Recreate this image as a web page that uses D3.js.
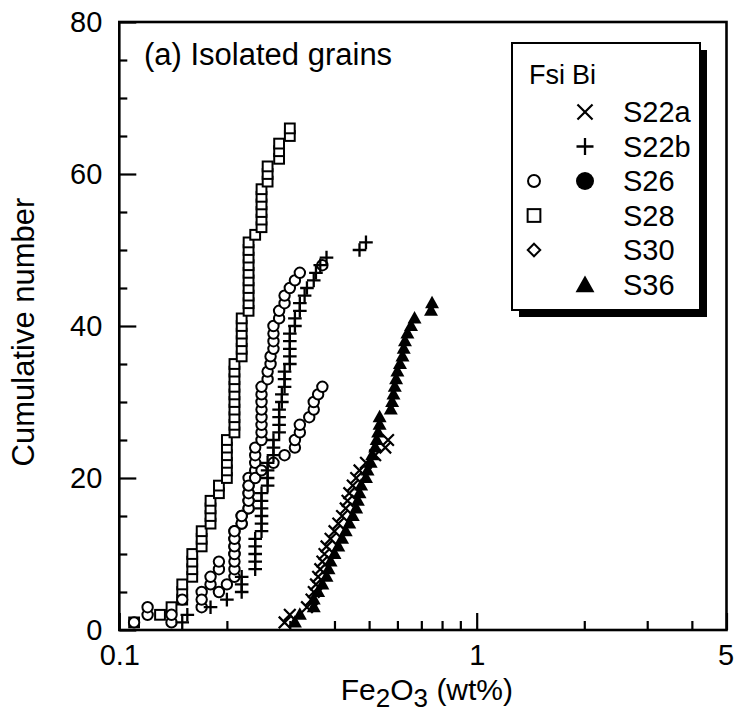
<!DOCTYPE html>
<html><head><meta charset="utf-8">
<script src="https://cdn.jsdelivr.net/npm/d3@7"></script>
<style>
html,body{margin:0;padding:0;background:#fff;}
svg{display:block;font-family:"Liberation Sans",Arial,Helvetica,sans-serif;}
</style></head>
<body><svg id="chart" width="736" height="716"></svg>
<script>
// ---- data (Fe2O3 wt% values, sorted; cumulative number = rank) ----
const s28Fsi = [0.11,0.13,0.14,0.15,0.15,0.15,0.16,0.16,0.16,0.16,0.17,0.17,0.17,0.18,0.18,0.18,0.18,0.19,0.19,0.20,0.20,0.20,0.20,0.20,0.20,
  0.21,0.21,0.21,0.21,0.21,0.21,0.21,0.21,0.21,0.21,0.22,0.22,0.22,0.22,0.22,0.22,
  0.23,0.23,0.23,0.23,0.23,0.23,0.23,0.23,0.23,0.23,0.24,0.25,0.25,0.25,0.25,0.25,0.25,0.26,0.26,0.26,0.28,0.28,0.28,0.30,0.30];
const s26FsiA = [0.11,0.12,0.12,0.15,0.17,0.18,0.18,0.19,0.19,0.21,0.21,0.21,0.21,0.22,0.22,0.23,0.23,0.23,0.23,0.23,
  0.24,0.24,0.24,0.24,0.25,0.25,0.25,0.25,0.25,0.25,0.25,0.25,0.26,0.26,0.265,0.265,0.27,0.27,0.27,0.27,
  0.28,0.28,0.29,0.29,0.30,0.31,0.32,0.37];
const s26FsiB = [0.14,0.14,0.17,0.17,0.19,0.20,0.21,0.21,0.21,0.21,0.21,0.21,0.21,0.22,0.22,0.23,0.23,0.23,0.23,0.24,
  0.25,0.27,0.29,0.31,0.31,0.32,0.32,0.34,0.35,0.35,0.36,0.37];
const s22bBi = [0.15,0.155,0.18,0.20,0.22,0.22,0.22,0.24,0.24,0.24,0.24,0.24,0.25,0.25,0.25,0.25,0.25,0.25,
  0.26,0.26,0.26,0.26,0.27,0.27,0.27,0.28,0.28,0.28,0.28,0.285,0.285,0.29,0.29,0.29,0.30,0.30,0.30,0.30,0.30,
  0.31,0.31,0.32,0.32,0.33,0.335,0.35,0.355,0.365,0.38,0.47,0.49];
const s22aBi = [0.29,0.30,0.335,0.345,0.35,0.355,0.36,0.365,0.37,0.375,0.38,0.39,0.40,0.41,0.42,0.43,0.435,0.44,
  0.45,0.46,0.47,0.49,0.52,0.555,0.565];
const s36Bi = [0.31,0.32,0.35,0.35,0.36,0.37,0.38,0.385,0.39,0.40,0.41,0.42,0.43,0.44,0.45,0.46,0.465,0.47,0.475,
  0.49,0.495,0.505,0.51,0.52,0.525,0.53,0.535,0.535,0.575,0.58,0.585,0.59,0.595,0.60,0.61,0.62,0.625,0.63,0.64,
  0.655,0.67,0.745,0.75];

const xMajor = [0.1, 1, 5];
const xMinor = [0.2,0.3,0.4,0.5,0.6,0.7,0.8,0.9,2,3,4];
const yMajor = [0, 20, 40, 60, 80];
const yMinor = [5,10,15,25,30,35,45,50,55,65,70,75];
const legendRows = [
  {label:"S22a", fsi:null, bi:"x"},
  {label:"S22b", fsi:null, bi:"plus"},
  {label:"S26", fsi:"circle", bi:"fcircle"},
  {label:"S28", fsi:"square", bi:null},
  {label:"S30", fsi:"diamond", bi:null},
  {label:"S36", fsi:null, bi:"triangle"}
];

// ---- layout ----
const L = 119.3, R = 726.5, T = 22, B = 630;
const svg = d3.select("#chart");
const x = d3.scaleLog().domain([0.1, 5]).range([L, R]);
const y = d3.scaleLinear().domain([0, 80]).range([B, T]);

// axes
const gx = svg.append("g").attr("transform", `translate(0,${B})`);
gx.call(d3.axisBottom(x).tickValues(xMinor).tickSize(-9).tickFormat(""));
const gx2 = svg.append("g").attr("transform", `translate(0,${B})`);
gx2.call(d3.axisBottom(x).tickValues(xMajor).tickSize(-17).tickPadding(14).tickFormat(d3.format("")));
const gy = svg.append("g").attr("transform", `translate(${L},0)`);
gy.call(d3.axisLeft(y).tickValues(yMinor).tickSize(-8).tickFormat(""));
const gy2 = svg.append("g").attr("transform", `translate(${L},0)`);
gy2.call(d3.axisLeft(y).tickValues(yMajor).tickSize(-17).tickPadding(17));
[gx, gx2, gy, gy2].forEach(g => {
  g.select(".domain").remove();
  g.selectAll(".tick line").attr("stroke", "#000").attr("stroke-width", 2.2);
  g.selectAll(".tick text").attr("font-size", 29).attr("fill", "#000")
    .attr("font-family", '"Liberation Sans",Arial,Helvetica,sans-serif');
});
gx2.selectAll(".tick text").filter(d => d === 5).attr("dx", -1);

// frame
svg.append("rect").attr("x", L).attr("y", T).attr("width", R - L).attr("height", B - T)
  .attr("fill", "none").attr("stroke", "#000").attr("stroke-width", 2.6);

// axis titles
const xt = svg.append("text").attr("x", (L + R) / 2 + 4).attr("y", 700).attr("text-anchor", "middle")
  .attr("font-size", 30).attr("fill", "#000");
xt.append("tspan").text("Fe");
xt.append("tspan").text("2").attr("font-size", 26).attr("dy", 7);
xt.append("tspan").text("O").attr("dy", -7);
xt.append("tspan").text("3").attr("font-size", 26).attr("dy", 7);
xt.append("tspan").text(" (wt%)").attr("dy", -7);

svg.append("text").attr("transform", "translate(34,332) rotate(-90)").attr("text-anchor", "middle")
  .attr("font-size", 31).attr("fill", "#000").text("Cumulative number");

svg.append("text").attr("x", 144).attr("y", 65).attr("font-size", 31).attr("fill", "#000")
  .text("(a) Isolated grains");

// ---- symbols ----
function drawSym(g, type, cx, cy, s) {
  const k = s || 1;
  if (type === "circle") {
    g.append("circle").attr("cx", cx).attr("cy", cy).attr("r", 5.2 * k)
      .attr("fill", "#fff").attr("stroke", "#000").attr("stroke-width", 2);
  } else if (type === "fcircle") {
    g.append("circle").attr("cx", cx).attr("cy", cy).attr("r", 5 * k).attr("fill", "#000");
  } else if (type === "square") {
    const h = 4.9 * k;
    g.append("rect").attr("x", cx - h).attr("y", cy - h).attr("width", 2 * h).attr("height", 2 * h)
      .attr("fill", "#fff").attr("stroke", "#000").attr("stroke-width", 2);
  } else if (type === "diamond") {
    const h = 5.2 * k;
    g.append("path").attr("d", `M${cx},${cy - h}L${cx + h},${cy}L${cx},${cy + h}L${cx - h},${cy}Z`)
      .attr("fill", "#fff").attr("stroke", "#000").attr("stroke-width", 2);
  } else if (type === "x") {
    const h = 5.8 * k;
    g.append("path").attr("d", `M${cx - h},${cy - h}L${cx + h},${cy + h}M${cx - h},${cy + h}L${cx + h},${cy - h}`)
      .attr("stroke", "#000").attr("stroke-width", 2.2).attr("fill", "none");
  } else if (type === "plus") {
    const h = 6.8 * k;
    g.append("path").attr("d", `M${cx - h},${cy}L${cx + h},${cy}M${cx},${cy - h}L${cx},${cy + h}`)
      .attr("stroke", "#000").attr("stroke-width", 2.3).attr("fill", "none");
  } else if (type === "triangle") {
    const w = 7 * k, ht = 12.5 * k;
    g.append("path").attr("d", `M${cx},${cy - ht * 0.6}L${cx + w},${cy + ht * 0.4}L${cx - w},${cy + ht * 0.4}Z`)
      .attr("fill", "#000");
  }
}

const series = [
  {vals: s28Fsi, type: "square"},
  {vals: s26FsiA, type: "circle"},
  {vals: s26FsiB, type: "circle"},
  {vals: s22bBi, type: "plus"},
  {vals: s22aBi, type: "x"},
  {vals: s36Bi, type: "triangle"}
];
const plot = svg.append("g");
series.forEach(s => {
  const g = plot.append("g");
  s.vals.forEach((v, i) => drawSym(g, s.type, x(v), y(i + 1)));
});

// ---- legend ----
const lg = svg.append("g");
const lx = 512, ly = 43, lw = 188, lh = 267;
lg.append("rect").attr("x", lx + 7).attr("y", ly + 7).attr("width", lw).attr("height", lh).attr("fill", "#000");
lg.append("rect").attr("x", lx).attr("y", ly).attr("width", lw).attr("height", lh)
  .attr("fill", "#fff").attr("stroke", "#000").attr("stroke-width", 2);
lg.append("text").attr("x", 529).attr("y", 84).attr("font-size", 27).text("Fsi");
lg.append("text").attr("x", 572).attr("y", 84).attr("font-size", 27).text("Bi");
const legSize = {circle: 1.15, fcircle: 1.8, square: 1.3, diamond: 1.2, x: 1.3, plus: 1.25, triangle: 1.35};
legendRows.forEach((r, i) => {
  const cy = 112 + i * 34.5;
  if (r.fsi) drawSym(lg, r.fsi, 534, cy, legSize[r.fsi]);
  if (r.bi) drawSym(lg, r.bi, 585, cy + (r.bi === "triangle" ? 1 : 0), legSize[r.bi]);
  lg.append("text").attr("x", 623).attr("y", cy + 10).attr("font-size", 29).text(r.label);
});
</script></body></html>
